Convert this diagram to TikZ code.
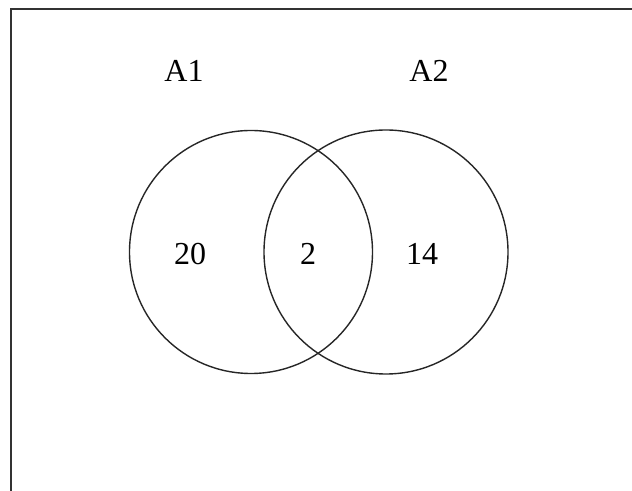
\documentclass[tikz,border=0pt]{standalone}
\usepackage{fontspec}
\setmainfont{Liberation Serif}
\begin{document}
\begin{tikzpicture}[
    x=0.5pt,y=-0.5pt,
    every node/.style={font=\fontsize{16pt}{18pt}\selectfont,inner sep=0pt},
    setline/.style={draw=black!85,line width=0.7pt},
    frame/.style={draw=black!80,line width=1pt}
]
\useasboundingbox (0,0) rectangle (632,491);
\clip (0,0) rectangle (632,491);
\draw[frame] (11,9) rectangle (660,520);

\node[setline,circle,minimum size=121.5pt] (setA) at (251,252) {};
\node[setline,circle,minimum size=122pt] (setB) at (386,252) {};

\node (labA) at (184,71) {A1};
\node (labB) at (429,71) {A2};
\node (onlyA) at (190,254) {20};
\node (both) at (308,254) {2};
\node (onlyB) at (422,254) {14};
\end{tikzpicture}
\end{document}
